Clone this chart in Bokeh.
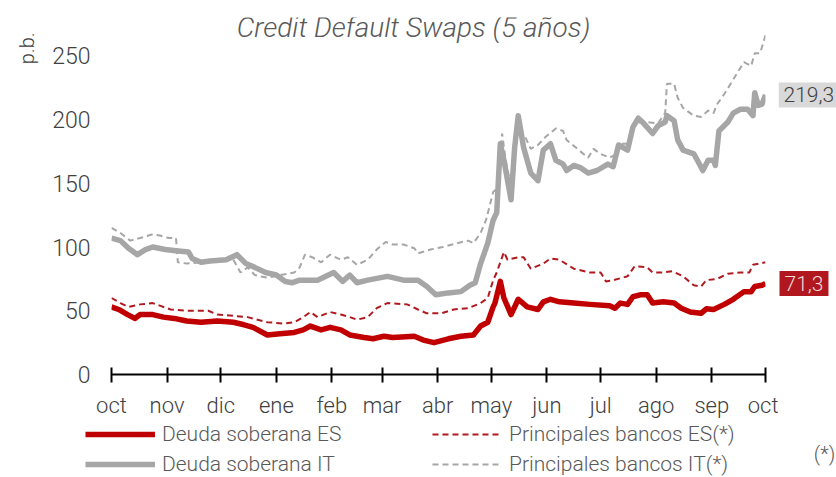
import pandas as pd
from bokeh.plotting import figure
from bokeh.layouts import column, row
from bokeh.models import FixedTicker, Label, Legend, LegendItem, Range1d
from bokeh.embed import file_html
from bokeh.resources import INLINE

START = "2017-10-01"

month_starts = ["2017-10-01", "2017-11-01", "2017-12-01", "2018-01-01", "2018-02-01",
                "2018-03-01", "2018-04-01", "2018-05-01", "2018-06-01", "2018-07-01",
                "2018-08-01", "2018-09-01", "2018-10-01"]
month_labels = ["oct", "nov", "dic", "ene", "feb", "mar", "abr", "may", "jun", "jul",
                "ago", "sep", "oct"]
y_ticks = [0, 50, 100, 150, 200, 250]

# Deuda soberana IT (days since 1-oct-2017, p.b.)
it_sov_days = [0, 5, 9.5, 14.5, 19, 23, 30, 36, 43, 45, 50, 55, 64, 70, 75, 80, 86, 92, 97,
               101, 105, 115, 124, 129, 133, 137, 143, 154, 163, 171, 176, 181, 188, 195,
               200, 203, 206, 210, 213, 215, 217, 219, 223, 225, 227, 230, 234, 238, 241,
               245, 248, 252, 254, 258, 262, 266, 271, 277, 280, 283, 288, 291, 294, 297,
               302, 305, 309, 310, 314, 316, 319, 325, 327, 330, 333, 336, 337, 339, 344,
               347, 351, 355, 358, 359, 361, 363, 365]
it_sov = [107, 105, 99, 94, 98, 100, 98, 97, 96, 91, 88, 89, 90, 94, 87, 84, 80, 78, 73,
          72, 74, 74, 80, 73, 78, 72, 74, 77, 74, 74, 69, 62.5, 64, 65,
          70, 72, 87, 103, 121, 127, 181, 168, 137, 178, 203, 178, 158, 152, 176,
          181, 168, 165, 160, 164, 162, 158, 160, 165, 163, 180, 176, 194, 201, 197,
          189, 195, 198, 203, 199, 184, 176, 173, 168, 160, 168, 168, 164, 191, 198,
          205, 208, 208, 203, 221, 211, 212, 219.3]

# Principales bancos IT(*)
it_bank_days = [0, 5, 10.5, 16, 23, 27, 32, 36, 37, 42, 50, 68, 72, 76, 80, 83, 87, 94, 102,
                105, 108, 112, 117, 122, 128, 132, 137, 143, 148, 153, 157, 163, 169, 171,
                178, 185, 193, 199, 202, 206, 209, 213, 215, 218, 220, 223, 227, 231, 234,
                238, 242, 248, 252, 254, 260, 266, 269, 273, 278, 282, 284, 288, 291, 295,
                299, 305, 309, 310, 314, 316, 319, 325, 329, 333, 336, 338, 342, 346, 349,
                353, 357, 359, 362, 365]
it_bank = [115, 111, 105, 107, 110, 109, 107, 107, 88, 87, 88, 90, 80, 84, 78, 77, 76, 78, 80,
           84, 94, 92, 88, 94, 90, 92, 86, 90, 98, 104, 102, 102, 99, 95,
           98, 100, 103, 105, 103, 111, 121, 143, 146, 189, 168, 147, 194, 186, 177,
           180, 186, 193, 191, 184, 177, 170, 177, 173, 170, 173, 181, 181, 194, 198,
           198, 197, 205, 228, 228, 217, 209, 203, 202, 207, 205, 212, 220, 229, 236,
           245, 242, 252, 252, 266]

# Deuda soberana ES
es_sov_days = [0, 4, 9, 13, 16, 23, 29, 35, 42, 50, 59, 68, 74, 79, 87, 94, 102, 107, 111,
               117, 122, 128, 133, 141, 146, 152, 157, 169, 174, 180, 188, 195, 202, 206,
               210, 213, 214, 217, 219, 223, 227, 232, 238, 241, 245, 250, 258, 267, 278,
               281, 284, 288, 291, 295, 299, 302, 308, 314, 318, 323, 329, 332, 336, 342,
               347, 353, 357, 359, 363, 365]
es_sov = [53, 51, 47, 44, 47, 47, 45, 44, 42, 41, 42, 41, 39, 37, 31, 32, 33, 35, 38,
          35, 37, 35, 31, 29, 28, 30, 29, 30, 27, 25, 28, 30, 31, 38,
          41, 53, 56, 73, 60, 47, 59, 53, 51, 57, 59, 57, 56, 55, 54,
          52, 56, 55, 61, 62.5, 62.5, 56, 57, 56, 52, 49, 48, 51.5, 51, 55,
          59, 65, 65, 69, 70, 71.3]

# Principales bancos ES(*)
es_bank_days = [0, 5, 9.5, 16, 23, 27, 33, 42, 54, 59, 68, 76, 87, 96, 102, 107, 111, 115,
                122, 128, 133, 137, 143, 148, 154, 165, 171, 176, 184, 191, 199, 206, 210,
                213, 215, 219, 221, 227, 230, 234, 241, 245, 250, 258, 267, 273, 276, 280,
                288, 292, 299, 302, 308, 313, 319, 325, 329, 332, 338, 344, 351, 356, 358,
                365]
es_bank = [60, 56, 53, 55, 56, 54, 51, 50, 50, 47, 46, 45, 41, 40, 41, 45, 49, 45,
           49, 47, 45, 43, 45, 52, 56, 55, 51, 48, 48, 51, 52, 56, 60,
           74, 80, 96, 90, 92, 92, 83, 87, 91, 90, 83, 80, 80, 73, 74,
           77, 85, 84, 80, 80, 81, 77, 70, 69, 74, 75, 79, 80, 80, 86,
           88]

FONT = "Roboto Light"
RED = "#C00000"
RED_D = "#B0191F"
GRAY = "#A6A6A6"
TXT = "#404040"
TXT2 = "#595959"


def to_dates(days):
    return pd.Timestamp(START) + pd.to_timedelta(days, unit="D")


def ms(d):
    return pd.Timestamp(d).value / 1e6


tick_ms = [ms(d) for d in month_starts]

STYLE_ES = dict(line_color=RED, line_width=5.5, line_join="round")
STYLE_IT = dict(line_color=GRAY, line_width=5.5, line_join="round")
STYLE_ES_B = dict(line_color=RED_D, line_width=2, line_dash="6 4")
STYLE_IT_B = dict(line_color=GRAY, line_width=2, line_dash="6 4")

# ---------------- main chart ----------------
p = figure(width=778, height=420, x_axis_type="datetime", output_backend="svg",
           toolbar_location=None, min_border_left=111, min_border_right=13,
           min_border_top=17, min_border_bottom=45,
           x_range=Range1d(tick_ms[0], tick_ms[-1]), y_range=Range1d(0, 280),
           title="p.b.", title_location="left")
p.outline_line_color = None
p.xgrid.visible = False
p.ygrid.visible = False
p.background_fill_color = "white"
p.border_fill_color = "white"
p.title.align = "right"
p.title.offset = 15
p.title.standoff = 22
p.title.text_font = FONT
p.title.text_font_style = "normal"
p.title.text_font_size = "20px"
p.title.text_color = TXT

p.line(to_dates(it_bank_days), it_bank, **STYLE_IT_B)
p.line(to_dates(es_bank_days), es_bank, **STYLE_ES_B)
p.line(to_dates(it_sov_days), it_sov, **STYLE_IT)
p.line(to_dates(es_sov_days), es_sov, **STYLE_ES)

xa = p.xaxis[0]
xa.ticker = FixedTicker(ticks=tick_ms)
xa.major_label_overrides = {t: lab for t, lab in zip(tick_ms, month_labels)}
xa.axis_line_color = "black"
xa.axis_line_width = 2
xa.major_tick_line_color = "black"
xa.major_tick_line_width = 2
xa.major_tick_in = 7
xa.major_tick_out = 8
xa.minor_tick_line_color = None
xa.major_label_standoff = 10
xa.major_label_text_font = FONT
xa.major_label_text_font_size = "22px"
xa.major_label_text_color = TXT

ya = p.yaxis[0]
ya.ticker = FixedTicker(ticks=y_ticks)
ya.axis_line_color = None
ya.major_tick_line_color = None
ya.minor_tick_line_color = None
ya.major_tick_in = 0
ya.major_tick_out = 0
ya.major_label_standoff = 21
ya.major_label_text_font = FONT
ya.major_label_text_font_size = "23px"
ya.major_label_text_color = TXT

p.add_layout(Label(x=302, y=347, x_units="screen", y_units="screen",
                   text="Credit Default Swaps (5 años)", text_align="center",
                   text_baseline="middle", text_font=FONT, text_font_style="italic",
                   text_font_size="28px", text_color=TXT2))

# ---------------- end-value labels (right strip) ----------------
pr = figure(width=58, height=420, output_backend="svg", toolbar_location=None,
            min_border_left=0, min_border_right=0, min_border_top=17,
            min_border_bottom=45, x_range=Range1d(0, 1), y_range=p.y_range,
            x_axis_location=None, y_axis_location=None)
pr.outline_line_color = None
pr.xgrid.visible = False
pr.ygrid.visible = False

it_txt = f"{it_sov[-1]:.1f}".replace(".", ",")
es_txt = f"{es_sov[-1]:.1f}".replace(".", ",")

pr.add_layout(Label(x=0, y=it_sov[-1], x_units="screen", text=it_txt,
                    text_align="left", text_baseline="middle", text_font=FONT,
                    text_font_size="21px", text_color=TXT,
                    background_fill_color="#D9D9D9", padding=5))
pr.add_layout(Label(x=4, y=es_sov[-1], x_units="screen", y_offset=-4, text=es_txt,
                    text_align="left", text_baseline="middle", text_font=FONT,
                    text_font_size="21px", text_alpha=0,
                    background_fill_color="#7F7F7F", background_fill_alpha=0.4,
                    padding=5))
pr.add_layout(Label(x=1, y=es_sov[-1], x_units="screen", text=es_txt,
                    text_align="left", text_baseline="middle", text_font=FONT,
                    text_font_size="21px", text_color="#F2DCDB",
                    background_fill_color="#B0171F", padding=5))

# ---------------- legend strip ----------------
pl = figure(width=836, height=57, output_backend="svg", toolbar_location=None,
            min_border=0, x_range=Range1d(0, 1), y_range=Range1d(0, 1),
            x_axis_location=None, y_axis_location=None)
pl.outline_line_color = None
pl.xgrid.visible = False
pl.ygrid.visible = False

# same series drawn into the legend strip, outside its visible range (only the swatches show)
l_es = pl.line(to_dates(es_sov_days), es_sov, **STYLE_ES)
l_it = pl.line(to_dates(it_sov_days), it_sov, **STYLE_IT)
l_es_b = pl.line(to_dates(es_bank_days), es_bank, **STYLE_ES_B)
l_it_b = pl.line(to_dates(it_bank_days), it_bank, **STYLE_IT_B)

common = dict(orientation="vertical", glyph_height=22, label_height=22, spacing=6,
              padding=0, margin=0, border_line_color=None, background_fill_alpha=0,
              label_text_font=FONT, label_text_font_size="21px",
              label_text_color=TXT2)
legA = Legend(items=[LegendItem(label="Deuda soberana ES", renderers=[l_es]),
                     LegendItem(label="Deuda soberana IT", renderers=[l_it])],
              location=(85, 1), glyph_width=70, label_standoff=7, **common)
legB = Legend(items=[LegendItem(label="Principales bancos ES(*)", renderers=[l_es_b]),
                     LegendItem(label="Principales bancos IT(*)", renderers=[l_it_b])],
              location=(432, 1), glyph_width=68, label_standoff=9, **common)
pl.add_layout(legA)
pl.add_layout(legB)
pl.add_layout(Label(x=824, y=24, x_units="screen", y_units="screen", text="(*)",
                    text_align="center", text_baseline="middle", text_font=FONT,
                    text_font_size="20px", text_color=TXT2))

layout = column(row(p, pr, spacing=0), pl, spacing=0)
open("out.html", "w").write(file_html(layout, INLINE))
